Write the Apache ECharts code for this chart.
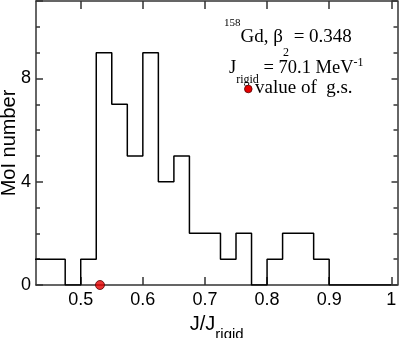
<!DOCTYPE html>
<html>
<head>
<meta charset="utf-8">
<script src="https://cdn.jsdelivr.net/npm/echarts@6/dist/echarts.min.js"></script>
<style>
  html, body { margin: 0; padding: 0; background: #fff; }
  #chart { width: 399px; height: 338px; }
</style>
</head>
<body>
<div id="chart"></div>
<script>
// histogram of MoI values, bins of 0.025 in J/J_rigid
const binEdges = [0.425, 0.45, 0.475, 0.5, 0.525, 0.55, 0.575, 0.6, 0.625, 0.65, 0.675, 0.7,
                  0.725, 0.75, 0.775, 0.8, 0.825, 0.85, 0.875, 0.9, 1.0];
const counts = [1, 1, 0, 1, 9, 7, 5, 9, 4, 5, 2, 2, 1, 2, 0, 1, 2, 2, 1, 0];
const gsValue = [[0.531, 0]];
const xTicks = [0.5, 0.6, 0.7, 0.8, 0.9, 1.0];

const serif = '"Liberation Serif", "Times New Roman", serif';
const sans = '"Liberation Sans", Arial, sans-serif';

// step points: each bin's left edge with its count, then the closing edge
const steps = counts.map((c, i) => [binEdges[i], c]);
steps.push([binEdges[binEdges.length - 1], counts[counts.length - 1]]);

const chart = echarts.init(document.getElementById('chart'));

const lineStyle = { color: '#333', width: 1.5 };

const option = {
    animation: false,
    grid: { left: 36, right: 1.5, top: 1, bottom: 53, containLabel: false, outerBoundsMode: 'none' },
    xAxis: [
        {
            type: 'value', min: 0.428, max: 1.01, position: 'bottom',
            name: '{m|J/J}{s|rigid}', nameLocation: 'middle', nameGap: 28, nameMoveOverlap: false,
            nameTextStyle: {
                rich: {
                    m: { fontFamily: sans, fontSize: 20, color: '#000', verticalAlign: 'top', height: 22 },
                    s: { fontFamily: sans, fontSize: 15, color: '#000', verticalAlign: 'top', height: 44 }
                }
            },
            axisLine: { show: true, onZero: false, lineStyle: lineStyle },
            axisTick: { show: true, inside: true, length: 8, customValues: xTicks, lineStyle: lineStyle },
            axisLabel: {
                customValues: xTicks, margin: 6, fontFamily: sans, fontSize: 18, color: '#000',
                formatter: v => (v === 1 ? '1' : v.toFixed(1))
            },
            splitLine: { show: false }
        },
        {
            type: 'value', min: 0.428, max: 1.01, position: 'top',
            axisLine: { show: true, onZero: false, lineStyle: lineStyle },
            axisTick: { show: true, inside: true, length: 8, customValues: xTicks, lineStyle: lineStyle },
            axisLabel: { show: false },
            splitLine: { show: false }
        }
    ],
    yAxis: [
        {
            type: 'value', min: 0, max: 11, interval: 4, position: 'left',
            name: 'MoI number', nameLocation: 'middle', nameGap: 17, nameMoveOverlap: false,
            nameTextStyle: { fontFamily: sans, fontSize: 20, color: '#000' },
            axisLine: { show: true, onZero: false, lineStyle: lineStyle },
            axisTick: { show: true, inside: true, length: 7, lineStyle: lineStyle },
            minorTick: { show: true, splitNumber: 4, length: 4, lineStyle: lineStyle },
            axisLabel: { margin: 5, fontFamily: sans, fontSize: 18, color: '#000', showMaxLabel: false },
            splitLine: { show: false }
        },
        {
            type: 'value', min: 0, max: 11, interval: 4, position: 'right',
            axisLine: { show: true, onZero: false, lineStyle: lineStyle },
            axisTick: { show: true, inside: true, length: 6, lineStyle: lineStyle },
            minorTick: { show: true, splitNumber: 4, length: 4, lineStyle: lineStyle },
            axisLabel: { show: false },
            splitLine: { show: false }
        }
    ],
    series: [
        {
            type: 'line', step: 'end', data: steps, showSymbol: false, symbol: 'none',
            lineStyle: { color: '#000', width: 1.5 }, z: 3
        },
        {
            type: 'scatter', data: gsValue, symbol: 'circle', symbolSize: 9, clip: false,
            itemStyle: { color: '#e60000', borderColor: '#500', borderWidth: 1 }, z: 4
        }
    ],
    graphic: [
        {
            type: 'text', x: 224, y: 15,
            style: {
                text: '{p|158}{m|Gd, β}{b|2}{m| = 0.348}', align: 'left', verticalAlign: 'top',
                rich: {
                    p: { fontFamily: serif, fontSize: 11, fill: '#000', verticalAlign: 'top', height: 17 },
                    m: { fontFamily: serif, fontSize: 19, fill: '#000', verticalAlign: 'top', height: 44 },
                    b: { fontFamily: serif, fontSize: 12, fill: '#000', verticalAlign: 'top', height: 76 }
                }
            }
        },
        {
            type: 'text', x: 229, y: 50,
            style: {
                text: '{m|J}{b|rigid}{m| = 70.1 MeV}{p|-1}', align: 'left', verticalAlign: 'top',
                rich: {
                    p: { fontFamily: serif, fontSize: 12, fill: '#000', verticalAlign: 'top', height: 25 },
                    m: { fontFamily: serif, fontSize: 18.5, fill: '#000', verticalAlign: 'top', height: 37 },
                    b: { fontFamily: serif, fontSize: 12, fill: '#000', verticalAlign: 'top', height: 60 }
                }
            }
        },
        {
            type: 'circle', shape: { cx: 248.3, cy: 89, r: 3.8 },
            style: { fill: '#e60000', stroke: '#500', lineWidth: 0.8 }
        },
        {
            type: 'text', x: 255, y: 88,
            style: {
                text: 'value of  g.s.', align: 'left', verticalAlign: 'middle',
                fontFamily: serif, fontSize: 19, fill: '#000'
            }
        }
    ]
};

chart.setOption(option);

window.addEventListener('resize', function () {
    chart.resize();
});
</script>
</body>
</html>
